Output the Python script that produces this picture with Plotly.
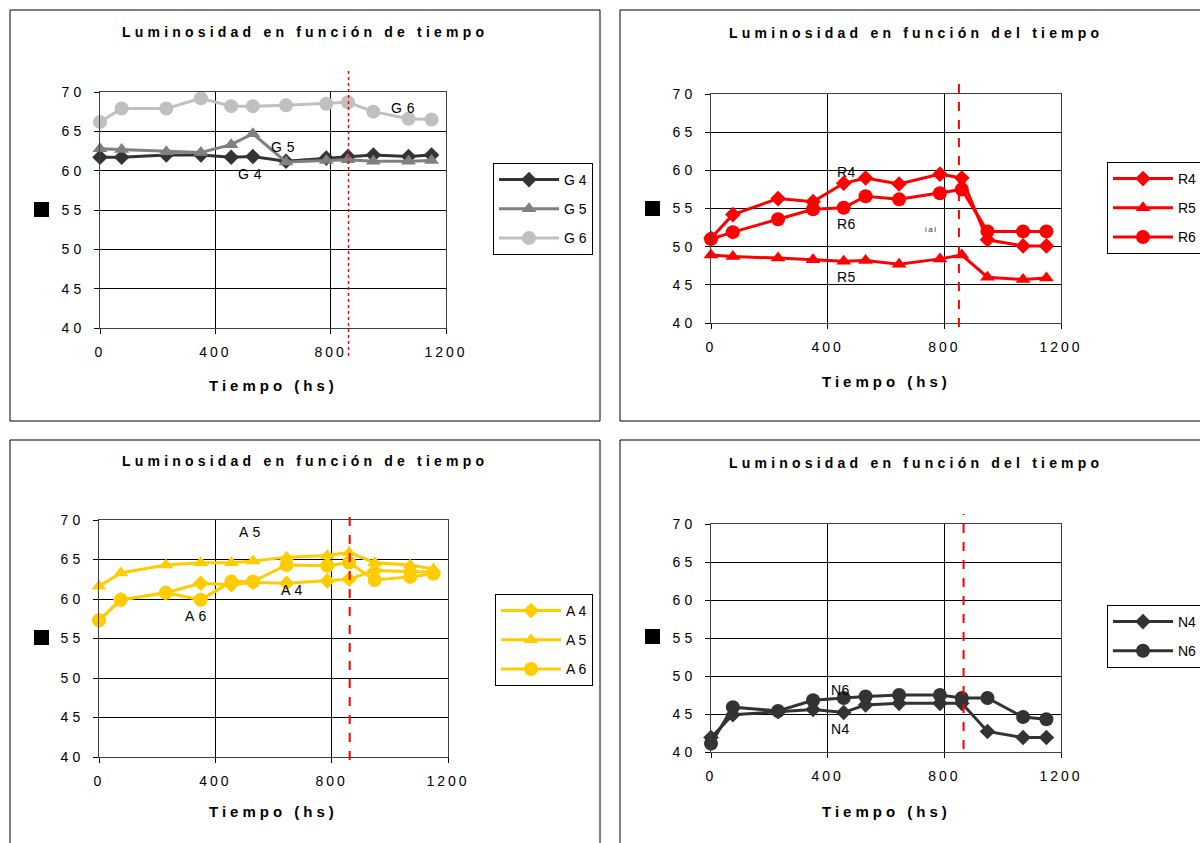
import plotly.graph_objects as go

W, H = 1200, 843

# ---------------- data ----------------
TIME = [0, 75, 230, 350, 455, 530, 645, 785, 860, 948, 1070, 1150]

G4 = [61.7, 61.7, 62.0, 62.0, 61.7, 61.8, 61.2, 61.6, 61.8, 62.0, 61.8, 62.0]
G5 = [62.8, 62.7, 62.4, 62.3, 63.3, 64.7, 61.1, 61.3, 61.4, 61.2, 61.2, 61.3]
G6 = [66.2, 67.9, 67.9, 69.2, 68.2, 68.2, 68.3, 68.5, 68.7, 67.5, 66.6, 66.5]

R4 = [51.1, 54.2, 56.3, 55.9, 58.3, 59.0, 58.2, 59.5, 59.0, 50.9, 50.1, 50.1]
R5 = [48.9, 48.7, 48.5, 48.3, 48.1, 48.2, 47.7, 48.4, 48.9, 46.0, 45.7, 45.9]
R6 = [51.0, 51.9, 53.6, 54.9, 55.1, 56.6, 56.2, 57.0, 57.5, 52.0, 52.0, 52.0]

A4 = [57.3, 59.9, 60.8, 62.0, 61.8, 62.1, 62.0, 62.3, 62.5, 63.6, 63.5, 63.4]
A5 = [61.6, 63.3, 64.3, 64.6, 64.6, 64.8, 65.3, 65.5, 65.9, 64.6, 64.3, 63.8]
A6 = [57.3, 59.9, 60.8, 59.9, 62.2, 62.2, 64.3, 64.2, 64.6, 62.4, 62.8, 63.2]

N4 = [41.9, 44.9, 45.3, 45.6, 45.2, 46.2, 46.4, 46.4, 46.4, 42.7, 41.9, 41.9]
N6 = [41.1, 45.9, 45.4, 46.8, 47.1, 47.3, 47.5, 47.5, 47.1, 47.1, 44.6, 44.3]

VLINE_X = [862, 850, 862, 866]

X_TICKS = [0, 400, 800, 1200]
Y_TICKS = [40, 45, 50, 55, 60, 65, 70]

TITLES = ["Luminosidad en función de tiempo", "Luminosidad en función del tiempo",
          "Luminosidad en función de tiempo", "Luminosidad en función del tiempo"]
X_TITLE = "Tiempo (hs)"

# ---------------- helpers ----------------
FONT = "Liberation Sans, Arial, sans-serif"


def px(x):
    return x / W


def py(y):
    return 1 - y / H


def ls(text, sp):
    return f'<span style="letter-spacing:{sp}px">{text}</span>'


# panel layout (pixels)
PANELS = [
    dict(x0=100, x1=446, y70=92, y40=328, box=(10, 10, 600, 421), title=(305, 32),
         xt=(273, 385), leg=(493, 163), sq=(34, 202), vl=(68, 356)),
    dict(x0=711, x1=1061, y70=94, y40=323, box=(620, 10, 1230, 421), title=(916, 33),
         xt=(886, 381), leg=(1107, 162), sq=(645, 201), vl=(83, 327)),
    dict(x0=99, x1=448, y70=520, y40=757, box=(10, 440, 600, 870), title=(305, 461),
         xt=(273, 811), leg=(495, 594), sq=(34, 630), vl=(512, 760)),
    dict(x0=711, x1=1061, y70=524, y40=752, box=(620, 440, 1230, 870), title=(916, 463),
         xt=(886, 811), leg=(1107, 605), sq=(645, 629), vl=(514, 749)),
]

SERIES = [
    [("G 4", G4, "#333333", "diamond", 12), ("G 5", G5, "#808080", "triangle-up", 13),
     ("G 6", G6, "#c0c0c0", "circle", 14)],
    [("R4", R4, "#ff0000", "diamond", 12), ("R5", R5, "#ff0000", "triangle-up", 13),
     ("R6", R6, "#ff0000", "circle", 14)],
    [("A 4", A4, "#ffcc00", "diamond", 12), ("A 5", A5, "#ffcc00", "triangle-up", 13),
     ("A 6", A6, "#ffcc00", "circle", 14)],
    [("N4", N4, "#333333", "diamond", 12), ("N6", N6, "#333333", "circle", 14)],
]

# in-chart labels: (panel, text, x, y, size)
LABELS = [
    (0, "G 6", 1050, 68.0, 14), (0, "G 5", 633, 63.0, 14), (0, "G 4", 520, 59.6, 14),
    (1, "R4", 463, 59.8, 14), (1, "R6", 463, 53.0, 14), (1, "R5", 463, 46.0, 14),
    (1, "ial", 755, 52.3, 8),
    (2, "A 5", 520, 68.5, 14), (2, "A 4", 665, 61.2, 14), (2, "A 6", 335, 57.9, 14),
    (3, "N6", 443, 48.2, 14), (3, "N4", 443, 43.0, 14),
]

fig = go.Figure()
shapes = []
annotations = []

for i, p in enumerate(PANELS):
    n = "" if i == 0 else str(i + 1)
    xa, ya = "x" + n, "y" + n
    leg = "legend" + n

    for j, (name, vals, color, sym, size) in enumerate(SERIES[i]):
        fig.add_trace(go.Scatter(
            x=TIME, y=vals, name=name, mode="lines+markers",
            line=dict(color=color, width=3),
            marker=dict(symbol=sym, size=size, color=color),
            xaxis=xa, yaxis=ya, legend=leg, legendgroup=f"{i}-{j}",
            cliponaxis=False, hoverinfo="x+y",
        ))

    fig.layout["xaxis" + n] = dict(
        domain=[px(p["x0"]), px(p["x1"])], range=[0, 1200], anchor=ya,
        tickvals=X_TICKS, ticktext=[ls(str(v), 3) for v in X_TICKS],
        showgrid=True, gridcolor="#000000", gridwidth=1, zeroline=False,
        showline=True, linecolor="#404040", linewidth=1, mirror=True,
        ticks="outside", ticklen=5, tickcolor="#000000", ticklabelstandoff=6,
        tickfont=dict(family=FONT, size=14, color="#000000"), fixedrange=True,
    )
    fig.layout["yaxis" + n] = dict(
        domain=[py(p["y40"]), py(p["y70"])], range=[40, 70], anchor=xa,
        tickvals=Y_TICKS, ticktext=[ls(str(v), 4) for v in Y_TICKS],
        showgrid=True, gridcolor="#000000", gridwidth=1, zeroline=False,
        showline=True, linecolor="#404040", linewidth=1, mirror=True,
        ticks="outside", ticklen=5, tickcolor="#000000", ticklabelstandoff=6,
        tickfont=dict(family=FONT, size=14, color="#000000"), fixedrange=True,
    )

    fig.layout[leg] = dict(
        x=px(p["leg"][0]), y=py(p["leg"][1]), xanchor="left", yanchor="top",
        xref="paper", yref="paper",
        bgcolor="#ffffff", bordercolor="#000000", borderwidth=1,
        font=dict(family=FONT, size=14, color="#000000"),
        itemwidth=60, tracegroupgap=8, traceorder="grouped",
    )

    # chart frame
    bx0, by0, bx1, by1 = p["box"]
    shapes.append(dict(type="rect", xref="paper", yref="paper",
                       x0=px(bx0), x1=px(bx1), y0=py(by1), y1=py(by0),
                       line=dict(color="#000000", width=1), fillcolor="rgba(0,0,0,0)",
                       layer="below"))
    # black square (axis-title glyph)
    sx, sy = p["sq"]
    shapes.append(dict(type="rect", xref="paper", yref="paper",
                       x0=px(sx), x1=px(sx + 15), y0=py(sy + 15), y1=py(sy),
                       line=dict(width=0), fillcolor="#000000"))
    # red reference line
    shapes.append(dict(type="line", xref=xa, yref="paper",
                       x0=VLINE_X[i], x1=VLINE_X[i], y0=py(p["vl"][1]), y1=py(p["vl"][0]),
                       line=dict(color="#ff0000", width=2 if i else 1.5,
                                 dash="dot" if i == 0 else "dash")))

    # title
    annotations.append(dict(xref="paper", yref="paper", x=px(p["title"][0]), y=py(p["title"][1]),
                            text="<b>" + ls(TITLES[i], 4.2) + "</b>", showarrow=False,
                            xanchor="center", yanchor="middle",
                            font=dict(family=FONT, size=14, color="#000000")))
    # x-axis title
    annotations.append(dict(xref="paper", yref="paper", x=px(p["xt"][0]), y=py(p["xt"][1]),
                            text="<b>" + ls(X_TITLE, 4) + "</b>", showarrow=False,
                            xanchor="center", yanchor="middle",
                            font=dict(family=FONT, size=15, color="#000000")))

for (i, text, x, y, size) in LABELS:
    n = "" if i == 0 else str(i + 1)
    annotations.append(dict(xref="x" + n, yref="y" + n, x=x, y=y,
                            text=ls(text, 0.5 if size > 8 else 1.5), showarrow=False,
                            xanchor="center", yanchor="middle",
                            font=dict(family=FONT, size=size,
                                      color="#000000" if size > 8 else "#333333")))

fig.update_layout(
    width=W, height=H, autosize=False,
    margin=dict(l=0, r=0, t=0, b=0, pad=0, autoexpand=False),
    paper_bgcolor="#ffffff", plot_bgcolor="#ffffff",
    shapes=shapes, annotations=annotations,
    font=dict(family=FONT, color="#000000"),
    showlegend=True,
)

fig.write_html("out.html", config={"displayModeBar": False},
               post_script="document.body.style.margin='0';document.body.style.overflow='hidden';")
